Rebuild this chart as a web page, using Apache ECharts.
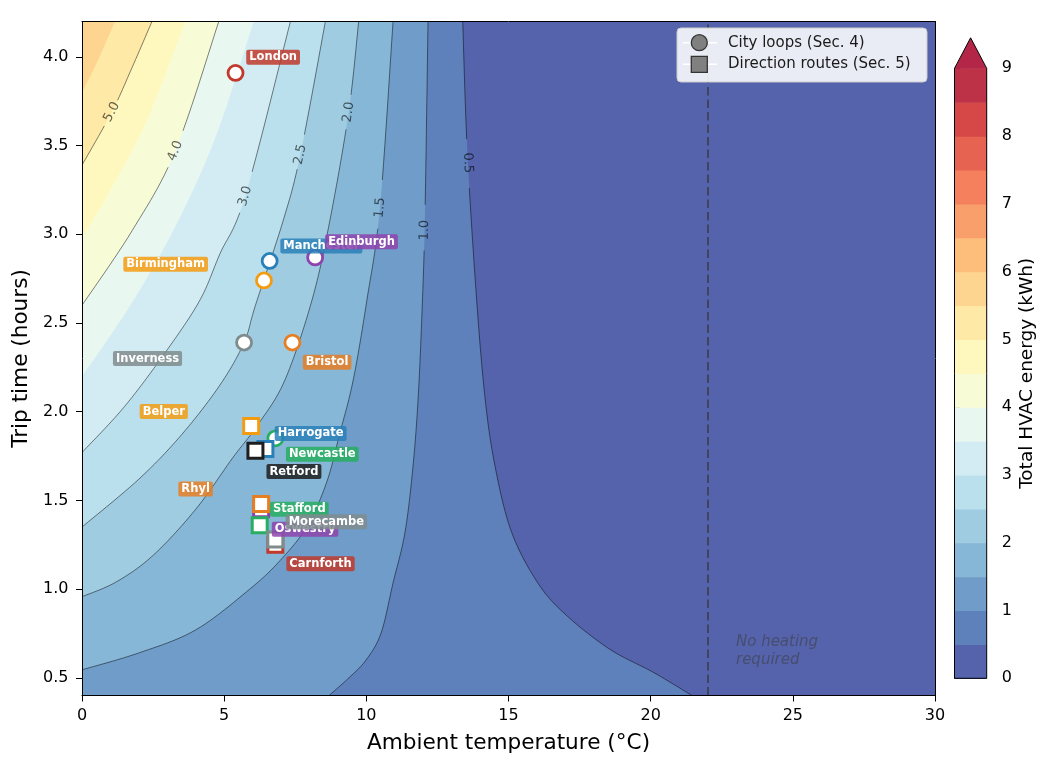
<!DOCTYPE html>
<html>
<head>
<meta charset="utf-8">
<script src="https://cdn.jsdelivr.net/npm/echarts@6/dist/echarts.min.js"></script>
<style>
  html, body { margin: 0; padding: 0; background: #ffffff; }
  #chart { width: 1051px; height: 762px; }
</style>
</head>
<body>
<div id="chart"></div>
<script>
// ---------------- data ----------------
// City loops (Sec. 4): ambient temperature (°C) and trip time (h)
const loopNames = ['London', 'Birmingham', 'Manchester', 'Edinburgh', 'Inverness', 'Bristol', 'Newcastle'];
const loopTemp  = [5.4, 6.4, 6.6, 8.2, 5.7, 7.4, 6.8];
const loopTime  = [3.91, 2.74, 2.85, 2.87, 2.39, 2.39, 1.85];

// Direction routes (Sec. 5)
const routeNames = ['Harrogate', 'Retford', 'Belper', 'Oswestry', 'Rhyl', 'Stafford', 'Carnforth', 'Morecambe'];
const routeTemp  = [6.45, 6.1, 5.95, 6.3, 6.3, 6.25, 6.8, 6.8];
const routeTime  = [1.79, 1.78, 1.92, 1.45, 1.48, 1.36, 1.25, 1.28];

// Axis ticks
const xTicks = [0, 5, 10, 15, 20, 25, 30];
const yTicks = [0.5, 1.0, 1.5, 2.0, 2.5, 3.0, 3.5, 4.0];
const cbarTicks = [0, 1, 2, 3, 4, 5, 6, 7, 8, 9];

// Filled-contour band edges (kWh) and the levels that get a drawn line
const bandEdges = [0, 0.5, 1, 1.5, 2, 2.5, 3, 3.5, 4, 4.5, 5, 5.5, 6, 6.5, 7, 7.5, 8, 8.5, 9];
const lineLevels = [0.5, 1.0, 1.5, 2.0, 2.5, 3.0, 4.0, 5.0];

// Iso-energy curves, [temperature °C, trip time h], from the top edge of the field downwards
const iso05 = [[13.39, 4.2], [13.55, 3.47], [13.88, 2.63], [14.18, 2.07], [14.53, 1.69], [15.11, 1.32], [16.05, 1.03], [17.05, 0.85], [18.57, 0.66], [20.1, 0.53], [21.45, 0.40]];
const iso10 = [[12.17, 4.2], [12.06, 3.09], [11.95, 2.53], [11.82, 2.07], [11.64, 1.69], [11.36, 1.32], [10.94, 1.035], [10.52, 0.753], [9.99, 0.60], [9.39, 0.50], [8.69, 0.40]];
const iso15 = [[10.94, 4.2], [10.48, 3.15], [10.02, 2.63], [9.54, 2.18], [9.07, 1.88], [8.6, 1.6], [7.9, 1.35], [6.96, 1.16], [5.9, 1.0], [4.0, 0.77], [2.0, 0.64], [0, 0.545]];
const iso20 = [[9.73, 4.2], [9.38, 3.69], [8.72, 3.08], [8.09, 2.63], [7.14, 2.18], [6.2, 1.93], [5.3, 1.74], [4.0, 1.45], [2.5, 1.19], [1.2, 1.04], [0, 0.957]];
const iso25 = [[8.56, 4.2], [7.68, 3.45], [7.08, 3.08], [6.1, 2.6], [5.7, 2.39], [4.85, 2.15], [3.5, 1.87], [2.0, 1.62], [0, 1.35]];
const iso30 = [[7.33, 4.2], [5.74, 3.215], [4.85, 2.89], [4.15, 2.63], [3.0, 2.35], [1.5, 2.03], [0, 1.77]];
const iso35 = [[6.04, 4.2], [4.7, 3.55], [3.3, 3.05], [1.7, 2.6], [0, 2.2]];
const iso40 = [[4.81, 4.2], [3.28, 3.47], [1.76, 3.02], [0, 2.6]];
const iso45 = [[3.63, 4.2], [2.3, 3.65], [1.0, 3.25], [0, 2.98]];
const iso50 = [[2.46, 4.2], [1.76, 3.94], [1.05, 3.69], [0, 3.39]];
const iso55 = [[1.16, 4.2], [0.5, 3.96], [0, 3.8]];

const isoByLevel = {
  0.5: iso05, 1: iso10, 1.5: iso15, 2: iso20, 2.5: iso25, 3: iso30,
  3.5: iso35, 4: iso40, 4.5: iso45, 5: iso50, 5.5: iso55
};
const fillLevels = [0.5, 1, 1.5, 2, 2.5, 3, 3.5, 4, 4.5, 5, 5.5];

// Where each line carries its inline value label
const isoLabelAt = {
  0.5: [13.62, 3.39], 1: [12.06, 3.05], 1.5: [10.4, 3.15], 2: [9.38, 3.69],
  2.5: [7.68, 3.45], 3: [5.74, 3.215], 4: [3.28, 3.47], 5: [1.05, 3.69]
};

const comfortTemp = 22;          // no heating above this ambient temperature
const noteAt = [23, 0.65];       // anchor of the "No heating required" note

// ---------------- styles ----------------
const FONT = 'DejaVu Sans';
const loopColors  = ['#c0392b', '#f39c12', '#2980b9', '#8e44ad', '#7f8c8d', '#e67e22', '#27ae60'];
const routeColors = ['#2980b9', '#1e1e1e', '#f39c12', '#8e44ad', '#e67e22', '#27ae60', '#c0392b', '#7f8c8d'];
// label box offsets (px) from each marker centre; negative dx puts the box on the left
const loopLabelDx  = [10.7, -56, 10.7, 10, -62, 10.4, 10.6];
const loopLabelDy  = [-15.7, -16.3, -15, -15.7, 16, 19.8, 16];
const routeLabelDx = [9.3, 11, -63.3, 10.7, -48.3, 10.3, 11, 10.3];
const routeLabelDy = [-15.5, 20.8, -14.3, 20, -15, -16, 19, -17.6];

// RdYlBu (reversed) colour ramp
const CMAP_ANCHORS = ['#313695', '#4575b4', '#74add1', '#abd9e9', '#e0f3f8', '#ffffbf',
                      '#fee090', '#fdae61', '#f46d43', '#d73027', '#a50026'];
const FILL_ALPHA = 0.85;
const CBAR_MAX = 9;
const BAND = 0.5;
const EXTEND_FRAC = 0.05;

function hex2rgb(h) {
  return [parseInt(h.slice(1, 3), 16), parseInt(h.slice(3, 5), 16), parseInt(h.slice(5, 7), 16)];
}
function cmap(v) {
  v = Math.max(0, Math.min(1, v));
  const p = v * 10;
  const i = Math.min(9, Math.floor(p));
  const f = p - i;
  const a = hex2rgb(CMAP_ANCHORS[i]), b = hex2rgb(CMAP_ANCHORS[i + 1]);
  return a.map((c, k) => c + (b[k] - c) * f);
}
function onWhite(rgb) {
  return 'rgb(' + rgb.map(c => Math.round(FILL_ALPHA * c + (1 - FILL_ALPHA) * 255)).join(',') + ')';
}
function bandColor(lo) { return onWhite(cmap((lo + BAND / 2) / CBAR_MAX)); }
function rgba(hex, a) { const c = hex2rgb(hex); return 'rgba(' + c.join(',') + ',' + a + ')'; }

// Catmull-Rom curve through pixel points
function spline(pts, seg) {
  seg = seg || 12;
  const out = [], n = pts.length;
  for (let i = 0; i < n - 1; i++) {
    const p0 = pts[Math.max(i - 1, 0)], p1 = pts[i], p2 = pts[i + 1], p3 = pts[Math.min(i + 2, n - 1)];
    for (let s = 0; s < seg; s++) {
      const t = s / seg, t2 = t * t, t3 = t2 * t;
      const q = [0, 1].map(k => 0.5 * (2 * p1[k] + (-p0[k] + p2[k]) * t +
        (2 * p0[k] - 5 * p1[k] + 4 * p2[k] - p3[k]) * t2 +
        (-p0[k] + 3 * p1[k] - 3 * p2[k] + p3[k]) * t3));
      out.push(q);
    }
  }
  out.push(pts[n - 1].slice());
  return out;
}

function labelStyle(color, dx, dy) {
  return {
    show: true,
    formatter: '{b}',
    position: 'inside',
    offset: [dx, dy],
    align: dx < 0 ? 'right' : 'left',
    verticalAlign: 'middle',
    color: '#ffffff',
    fontFamily: FONT,
    fontWeight: 'bold',
    fontSize: 11.5,
    lineHeight: 13,
    backgroundColor: rgba(color, 0.85),
    padding: [1, 3, 1, 3],
    borderRadius: 2
  };
}

// ---------------- chart ----------------
const chart = echarts.init(document.getElementById('chart'), null, { renderer: 'canvas' });

const axisText = { color: '#000', fontFamily: FONT, fontSize: 16 };
const LEGEND_Z = 100;

const option = {
  animation: false,
  backgroundColor: '#ffffff',
  grid: [
    { left: 82, top: 21.5, width: 853, height: 674 },
    { left: 954.5, top: 68.3, width: 32.2, height: 610 }
  ],
  xAxis: [
    {
      gridIndex: 0, type: 'value', min: 0, max: 30, interval: 5, z: 10,
      name: 'Ambient temperature (°C)', nameLocation: 'middle', nameGap: 37,
      nameTextStyle: { color: '#000', fontFamily: FONT, fontSize: 21.6 },
      axisLine: { show: true, onZero: false, lineStyle: { color: '#000', width: 1 } },
      axisTick: { show: true, length: 6, lineStyle: { color: '#000', width: 1 } },
      axisLabel: Object.assign({ margin: 12, customValues: xTicks }, axisText),
      splitLine: { show: false }
    },
    {
      gridIndex: 0, type: 'value', min: 0, max: 30, position: 'top', z: 10,
      axisLine: { show: true, onZero: false, lineStyle: { color: '#000', width: 1 } },
      axisTick: { show: false }, axisLabel: { show: false }, splitLine: { show: false }
    },
    { gridIndex: 1, type: 'value', min: 0, max: 1, show: false }
  ],
  yAxis: [
    {
      gridIndex: 0, type: 'value', min: 0.4, max: 4.2, z: 10,
      name: 'Trip time (hours)', nameLocation: 'middle', nameGap: 50, nameRotate: 90,
      nameTextStyle: { color: '#000', fontFamily: FONT, fontSize: 21.6 },
      axisLine: { show: true, onZero: false, lineStyle: { color: '#000', width: 1 } },
      axisTick: { show: true, length: 6, customValues: yTicks, lineStyle: { color: '#000', width: 1 } },
      axisLabel: Object.assign({ margin: 13.5, customValues: yTicks, formatter: v => Number(v).toFixed(1) }, axisText),
      splitLine: { show: false }
    },
    {
      gridIndex: 0, type: 'value', min: 0.4, max: 4.2, position: 'right', z: 10,
      axisLine: { show: true, onZero: false, lineStyle: { color: '#000', width: 1 } },
      axisTick: { show: false }, axisLabel: { show: false }, splitLine: { show: false }
    },
    {
      gridIndex: 1, type: 'value', min: 0, max: CBAR_MAX, interval: 1, position: 'right',
      name: 'Total HVAC energy (kWh)', nameLocation: 'middle', nameGap: 31, nameRotate: 90,
      nameTextStyle: { color: '#000', fontFamily: FONT, fontSize: 18.5 },
      axisLine: { show: false },
      axisTick: { show: true, length: 6, customValues: cbarTicks, lineStyle: { color: '#000', width: 1 } },
      axisLabel: Object.assign({ margin: 15, customValues: cbarTicks }, axisText),
      splitLine: { show: false }
    }
  ],
  series: [
    // lowest band covers the whole field
    {
      type: 'custom', xAxisIndex: 0, yAxisIndex: 0, z: 1, silent: true, clip: true,
      data: [[15, 2]],
      renderItem: (params, api) => {
        const cs = params.coordSys;
        return { type: 'rect', shape: { x: cs.x, y: cs.y, width: cs.width, height: cs.height },
                 style: { fill: bandColor(bandEdges[0]) } };
      }
    },
    // filled bands: the region above each level, painted in increasing order
    {
      type: 'custom', xAxisIndex: 0, yAxisIndex: 0, z: 1, silent: true, clip: true,
      data: fillLevels.map(L => [1, 2]),
      renderItem: (params, api) => {
        const L = fillLevels[params.dataIndex];
        const cs = params.coordSys;
        const x0 = cs.x, y0 = cs.y, y1 = cs.y + cs.height;
        const dense = spline(isoByLevel[L].map(p => api.coord(p)));
        const first = dense[0], last = dense[dense.length - 1];
        const poly = dense.slice();
        if (last[1] >= y1 - 1) { poly.push([last[0], y1]); poly.push([x0, y1]); }
        poly.push([x0, y0]);
        poly.push([first[0], y0]);
        return { type: 'polygon', shape: { points: poly }, style: { fill: bandColor(L) } };
      }
    },
    // contour lines with inline labels
    {
      type: 'custom', xAxisIndex: 0, yAxisIndex: 0, z: 2, silent: true, clip: true,
      data: lineLevels.map(L => [1, 2]),
      renderItem: (params, api) => {
        const L = lineLevels[params.dataIndex];
        const dense = spline(isoByLevel[L].map(p => api.coord(p)));
        const children = [];
        const lp = api.coord(isoLabelAt[L]);
        let k = 0, best = Infinity;
        dense.forEach((p, i) => { const d = Math.hypot(p[0] - lp[0], p[1] - lp[1]); if (d < best) { best = d; k = i; } });
        const c = dense[k];
        const a = dense[Math.max(0, k - 3)], b = dense[Math.min(dense.length - 1, k + 3)];
        let ang = Math.atan2(-(b[1] - a[1]), b[0] - a[0]);
        if (ang > Math.PI / 2) ang -= Math.PI;
        if (ang <= -Math.PI / 2) ang += Math.PI;
        const txt = L.toFixed(1);
        const r = 13;
        let cur = [];
        dense.forEach(p => {
          if (Math.hypot(p[0] - c[0], p[1] - c[1]) < r) {
            if (cur.length > 1) children.push(cur);
            cur = [];
          } else cur.push(p);
        });
        if (cur.length > 1) children.push(cur);
        const els = children.map(seg => ({
          type: 'polyline', shape: { points: seg },
          style: { stroke: 'rgba(0,0,0,0.55)', lineWidth: 0.9, fill: null }
        }));
        els.push({
          type: 'text', x: c[0], y: c[1], rotation: ang,
          style: { text: txt, x: 0, y: 0, align: 'center', verticalAlign: 'middle',
                   fill: 'rgba(0,0,0,0.62)', fontFamily: FONT, fontSize: 13 }
        });
        return { type: 'group', children: els };
      }
    },
    // comfort threshold and its note
    {
      type: 'custom', xAxisIndex: 0, yAxisIndex: 0, z: 3, silent: true,
      data: [noteAt],
      renderItem: (params, api) => {
        const p = api.coord([api.value(0), api.value(1)]);
        return {
          type: 'text', x: p[0], y: p[1],
          style: { text: 'No heating\nrequired', align: 'left', verticalAlign: 'middle',
                   fill: 'rgba(60,60,60,0.55)', fontFamily: FONT, fontSize: 15,
                   fontStyle: 'italic', lineHeight: 18 }
        };
      },
      markLine: {
        silent: true, symbol: 'none', label: { show: false },
        lineStyle: { color: 'rgba(55,55,55,0.75)', width: 1.8, type: [8.5, 4] },
        data: [{ xAxis: comfortTemp }]
      }
    },
    // city loops
    {
      type: 'scatter', name: 'City loops (Sec. 4)', xAxisIndex: 0, yAxisIndex: 0, z: 5, silent: true,
      symbol: 'circle', symbolSize: 15,
      data: loopNames.map((n, i) => ({
        name: n, value: [loopTemp[i], loopTime[i]],
        itemStyle: { color: '#ffffff', borderColor: loopColors[i], borderWidth: 2.8, opacity: 1 },
        label: labelStyle(loopColors[i], loopLabelDx[i], loopLabelDy[i])
      }))
    },
    // direction routes
    {
      type: 'scatter', name: 'Direction routes (Sec. 5)', xAxisIndex: 0, yAxisIndex: 0, z: 6, silent: true,
      symbol: 'rect', symbolSize: 15,
      data: routeNames.map((n, i) => ({
        name: n, value: [routeTemp[i], routeTime[i]],
        itemStyle: { color: '#ffffff', borderColor: routeColors[i], borderWidth: 3, opacity: 1 },
        label: labelStyle(routeColors[i], routeLabelDx[i], routeLabelDy[i])
      }))
    },
    // colour bar with its extension arrow
    {
      type: 'custom', xAxisIndex: 2, yAxisIndex: 2, z: 2, silent: true,
      data: [[0.5, 4.5]],
      renderItem: (params, api) => {
        const kids = [];
        for (let k = 0; k < bandEdges.length - 1; k++) {
          const lo = bandEdges[k], hi = bandEdges[k + 1];
          const p0 = api.coord([0, hi]), p1 = api.coord([1, lo]);
          kids.push({ type: 'rect', shape: { x: p0[0], y: p0[1], width: p1[0] - p0[0], height: p1[1] - p0[1] + 0.6 },
                      style: { fill: bandColor(lo) } });
        }
        const tl = api.coord([0, CBAR_MAX]), tr = api.coord([1, CBAR_MAX]);
        const tip = api.coord([0.5, CBAR_MAX * (1 + EXTEND_FRAC)]);
        const bl = api.coord([0, 0]), br = api.coord([1, 0]);
        kids.push({ type: 'polygon', shape: { points: [[tl[0], tl[1] + 0.5], [tr[0], tr[1] + 0.5], tip] },
                    style: { fill: onWhite(cmap(1)) } });
        kids.push({ type: 'polygon', shape: { points: [bl, tl, tip, tr, br] },
                    style: { fill: null, stroke: '#000', lineWidth: 1 } });
        return { type: 'group', children: kids };
      }
    }
  ],
  // legend box (top right of the field)
  graphic: {
    elements: [
      { type: 'rect', z: LEGEND_Z, shape: { x: 677, y: 28, width: 250, height: 54, r: 4 },
        style: { fill: 'rgba(255,255,255,0.88)', stroke: '#cccccc', lineWidth: 1 } },
      { type: 'line', z: LEGEND_Z + 1, shape: { x1: 683, y1: 42.7, x2: 717, y2: 42.7 },
        style: { stroke: '#ffffff', lineWidth: 1.5 } },
      { type: 'circle', z: LEGEND_Z + 2, shape: { cx: 699.3, cy: 42.7, r: 8 },
        style: { fill: '#808080', stroke: '#333333', lineWidth: 1.3 } },
      { type: 'text', z: LEGEND_Z + 2, x: 728, y: 42.7,
        style: { text: 'City loops (Sec. 4)', fill: '#1a1a1a', fontFamily: FONT, fontSize: 15, verticalAlign: 'middle' } },
      { type: 'line', z: LEGEND_Z + 1, shape: { x1: 683, y1: 64.3, x2: 717, y2: 64.3 },
        style: { stroke: '#ffffff', lineWidth: 1.5 } },
      { type: 'rect', z: LEGEND_Z + 2, shape: { x: 691.3, y: 56.3, width: 16, height: 16 },
        style: { fill: '#808080', stroke: '#333333', lineWidth: 1.3 } },
      { type: 'text', z: LEGEND_Z + 2, x: 728, y: 64.3,
        style: { text: 'Direction routes (Sec. 5)', fill: '#1a1a1a', fontFamily: FONT, fontSize: 15, verticalAlign: 'middle' } }
    ]
  }
};

chart.setOption(option);
</script>
</body>
</html>
